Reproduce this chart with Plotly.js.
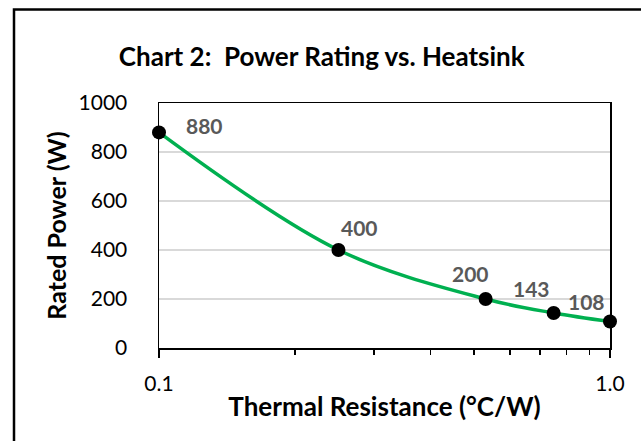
<!DOCTYPE html>
<html>
<head>
<meta charset="utf-8">
<script src="https://cdn.plot.ly/plotly-3.0.1.min.js"></script>
<style>html,body{margin:0;padding:0;background:#fff;}#chart{width:641px;height:441px;}</style>
</head>
<body>
<div id="chart"></div>
<script>
const thermalResistance = [0.1, 0.25, 0.53, 0.75, 1.0];
const ratedPower = [880, 400, 200, 143, 108];
const pointLabels = ['880', '400', '200', '143', '108'];
const xTickVals = [0.1, 1.0];
const xTickText = ['0.1', '1.0'];
const xMinorTickVals = [0.2, 0.3, 0.4, 0.5, 0.6, 0.7, 0.8, 0.9];
const yTickVals = [0, 200, 400, 600, 800, 1000];

const labelShiftX = [45, 21, -15, -22, -24];
const labelShiftY = [7, 23, 26, 24, 20];

const FONT = 'Lato, "Open Sans", sans-serif';

const trace = {
  x: thermalResistance,
  y: ratedPower,
  type: 'scatter',
  mode: 'lines+markers',
  line: {color: '#00B050', width: 3.5, shape: 'spline', smoothing: 1},
  marker: {color: '#000000', size: 14},
  hoverinfo: 'skip',
  cliponaxis: false
};

const annotations = thermalResistance.map((xv, i) => ({
  x: Math.log10(xv),
  y: ratedPower[i],
  xref: 'x', yref: 'y',
  text: '<b>' + pointLabels[i] + '</b>',
  showarrow: false,
  xshift: labelShiftX[i],
  yshift: labelShiftY[i],
  font: {family: FONT, size: 21, color: '#595959'}
}));

const layout = {
  width: 641, height: 441,
  margin: {l: 159, r: 31, t: 103, b: 93},
  paper_bgcolor: '#ffffff',
  plot_bgcolor: '#ffffff',
  showlegend: false,
  font: {family: FONT, color: '#000000', size: 21},
  title: {
    text: '<b>Chart 2:  Power Rating vs. Heatsink</b>',
    font: {family: FONT, size: 26, color: '#000000'},
    x: 0.502, xref: 'container', xanchor: 'center',
    y: 1 - 57 / 441, yref: 'container', yanchor: 'middle'
  },
  xaxis: {
    type: 'log',
    range: [-1, 0],
    tickmode: 'array',
    tickvals: xTickVals,
    ticktext: xTickText,
    ticks: 'outside', ticklen: 8, tickwidth: 1.5, tickcolor: '#000000',
    ticklabelstandoff: 8,
    minor: {tickmode: 'array', tickvals: xMinorTickVals, ticks: 'outside', ticklen: 5, tickwidth: 1.5, tickcolor: '#000000', showgrid: false},
    showgrid: false,
    showline: true, linecolor: '#000000', linewidth: 1.5, mirror: true,
    zeroline: false,
    tickfont: {family: FONT, size: 21, color: '#000000'},
    title: {text: '<b>Thermal Resistance (°C/W)</b>', font: {family: FONT, size: 26, color: '#000000'}, standoff: 4},
    automargin: false,
    fixedrange: true
  },
  yaxis: {
    range: [0, 1000],
    tickmode: 'array',
    tickvals: yTickVals,
    ticks: '',
    ticklabelstandoff: 26,
    showgrid: true, gridcolor: '#d9d9d9', gridwidth: 1.5,
    showline: true, linecolor: '#000000', linewidth: 1.5, mirror: true,
    zeroline: false,
    tickfont: {family: FONT, size: 21, color: '#000000'},
    title: {text: '<b>Rated Power (W)</b>', font: {family: FONT, size: 25, color: '#000000'}, standoff: 5},
    automargin: false,
    fixedrange: true
  },
  shapes: [{
    type: 'rect', xref: 'paper', yref: 'paper',
    x0: (14 - 159) / 451, x1: 1.3,
    y0: -0.6, y1: 1 + (103 - 9.5) / 245,
    line: {color: '#000000', width: 2.5},
    fillcolor: 'rgba(0,0,0,0)',
    layer: 'below'
  }],
  annotations: annotations
};

Plotly.newPlot('chart', [trace], layout, {displayModeBar: false, staticPlot: true});
</script>
</body>
</html>
